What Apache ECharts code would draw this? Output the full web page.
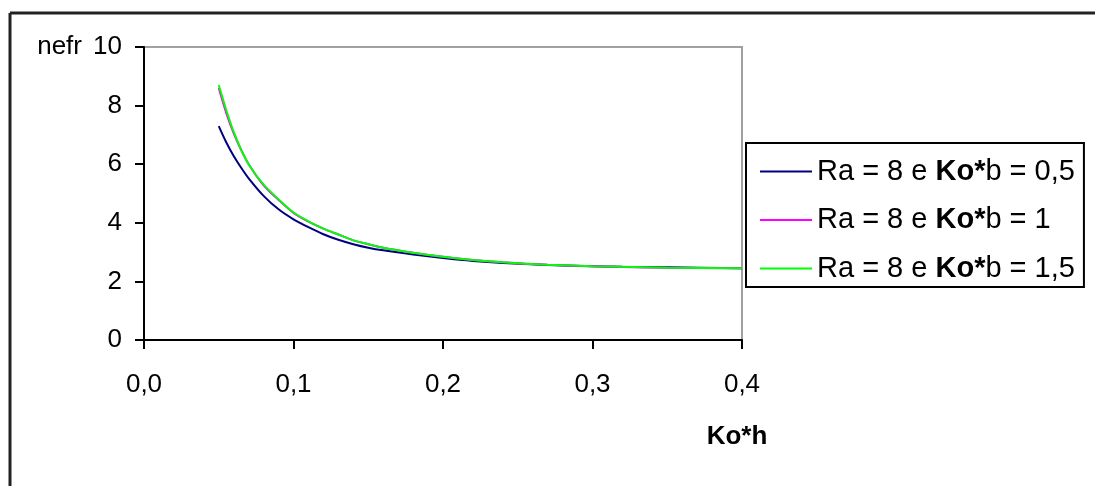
<!DOCTYPE html>
<html>
<head>
<meta charset="utf-8">
<script src="https://cdn.jsdelivr.net/npm/echarts@6/dist/echarts.min.js"></script>
<style>
html,body{margin:0;padding:0;background:#fff;}
#chart{width:1095px;height:486px;}
</style>
</head>
<body>
<div id="chart"></div>
<script>
// Data
var koh = [0.05, 0.055, 0.06, 0.065, 0.07, 0.08, 0.09, 0.10, 0.11, 0.12, 0.13, 0.14, 0.15, 0.16, 0.18, 0.20, 0.22, 0.24, 0.27, 0.30, 0.32, 0.35, 0.40];
var nefrKob05 = [7.30, 6.75, 6.28, 5.88, 5.52, 4.92, 4.46, 4.12, 3.85, 3.61, 3.42, 3.27, 3.15, 3.06, 2.92, 2.80, 2.70, 2.63, 2.56, 2.52, 2.50, 2.48, 2.45];
var nefrKob1  = [8.60, 7.75, 7.05, 6.48, 6.00, 5.28, 4.78, 4.34, 4.04, 3.80, 3.60, 3.40, 3.27, 3.15, 2.98, 2.84, 2.73, 2.65, 2.57, 2.52, 2.49, 2.47, 2.45];
var nefrKob15 = [8.70, 7.85, 7.10, 6.50, 6.00, 5.30, 4.80, 4.35, 4.05, 3.80, 3.60, 3.40, 3.27, 3.15, 2.98, 2.84, 2.73, 2.65, 2.57, 2.52, 2.50, 2.47, 2.45];
var seriesNames = ['Ra = 8 e Ko*b = 0,5', 'Ra = 8 e Ko*b = 1', 'Ra = 8 e Ko*b = 1,5'];
var legendParts = [['Ra = 8 e ', 'Ko*', 'b = 0,5'], ['Ra = 8 e ', 'Ko*', 'b = 1'], ['Ra = 8 e ', 'Ko*', 'b = 1,5']];
var seriesColors = ['#000080', '#ff00ff', '#00ff00'];
var xTicks = {min: 0, max: 0.4, interval: 0.1};
var yTicks = {min: 0, max: 10, interval: 2};
var xName = 'Ko*h';
var yName = 'nefr';

function pairs(xs, ys) { return xs.map(function (x, i) { return [x, ys[i]]; }); }
var values = [nefrKob05, nefrKob1, nefrKob15];

var FONT = '"Liberation Sans", Arial, sans-serif';
var chart = echarts.init(document.getElementById('chart'), null, {renderer: 'canvas'});
chart.setOption({
  animation: false,
  backgroundColor: '#fff',
  textStyle: {fontFamily: FONT, color: '#000'},
  grid: {left: 144, right: 353, top: 47, bottom: 146, show: true, borderColor: '#a0a0a0', borderWidth: 2, backgroundColor: 'transparent'},
  graphic: [
    {type: 'line', shape: {x1: 10, y1: 13, x2: 1095, y2: 13}, style: {stroke: '#222', lineWidth: 3}},
    {type: 'line', shape: {x1: 10, y1: 13, x2: 10, y2: 486}, style: {stroke: '#222', lineWidth: 3}}
  ],
  xAxis: {
    type: 'value', min: xTicks.min, max: xTicks.max, interval: xTicks.interval,
    name: xName, nameLocation: 'end', nameGap: -5,
    nameTextStyle: {fontFamily: FONT, fontSize: 26, fontWeight: 'bold', color: '#000', align: 'center', verticalAlign: 'top', padding: [84, 0, 0, 0]},
    axisLine: {lineStyle: {color: '#000', width: 2}},
    axisTick: {show: true, inside: false, length: 9, lineStyle: {color: '#000', width: 2}},
    axisLabel: {fontFamily: FONT, fontSize: 26, color: '#000', margin: 32,
      formatter: function (v) { return v.toFixed(1).replace('.', ','); }},
    splitLine: {show: false}
  },
  yAxis: {
    type: 'value', min: yTicks.min, max: yTicks.max, interval: yTicks.interval,
    name: yName, nameLocation: 'end', nameGap: 0,
    nameTextStyle: {fontFamily: FONT, fontSize: 26, color: '#000', align: 'right', verticalAlign: 'middle', padding: [0, 62, 0, 0]},
    axisLine: {show: true, lineStyle: {color: '#000', width: 2}},
    axisTick: {show: true, inside: false, length: 9, lineStyle: {color: '#000', width: 2}},
    axisLabel: {fontFamily: FONT, fontSize: 26, color: '#000', margin: 22},
    splitLine: {show: false}
  },
  legend: {
    orient: 'vertical', left: 746, top: 143,
    padding: [14, 9, 4, 14], itemGap: 19.5,
    itemWidth: 52, itemHeight: 2,
    borderColor: '#000', borderWidth: 2, backgroundColor: '#fff',
    data: seriesNames.map(function (n) { return {name: n, icon: 'rect'}; }),
    formatter: function (name) {
      var p = legendParts[seriesNames.indexOf(name)];
      return '{n|' + p[0] + '}{b|' + p[1] + '}{n|' + p[2] + '}';
    },
    textStyle: {
      fontFamily: FONT, fontSize: 29, color: '#000', padding: [0, 0, 0, 0],
      rich: {
        n: {fontFamily: FONT, fontSize: 29, color: '#000'},
        b: {fontFamily: FONT, fontSize: 29, color: '#000', fontWeight: 'bold'}
      }
    }
  },
  series: seriesNames.map(function (n, i) {
    return {
      name: n, type: 'line', data: pairs(koh, values[i]),
      showSymbol: false, symbol: 'none', smooth: 0.3,
      lineStyle: {color: seriesColors[i], width: 2},
      itemStyle: {color: seriesColors[i]}
    };
  })
});
</script>
</body>
</html>
